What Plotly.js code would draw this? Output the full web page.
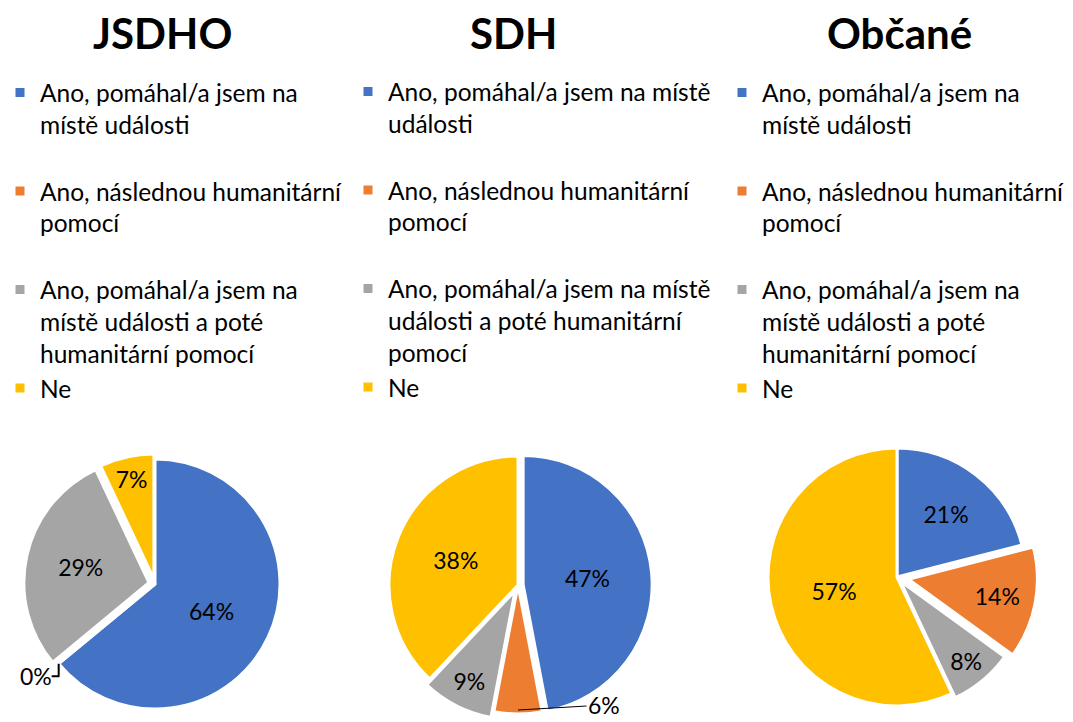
<!DOCTYPE html>
<html>
<head>
<meta charset="utf-8">
<script src="https://cdn.plot.ly/plotly-3.0.1.min.js"></script>
<style>html,body{margin:0;padding:0;background:#fff;}#chart{width:1073px;height:722px;}</style>
</head>
<body>
<div id="chart"></div>
<script>
const chartTitles = ["JSDHO", "SDH", "Občané"];
const categories = [
  "Ano, pomáhal/a jsem na místě události",
  "Ano, následnou humanitární pomocí",
  "Ano, pomáhal/a jsem na místě události a poté humanitární pomocí",
  "Ne"
];
const labelsNarrow = [
  "Ano, pomáhal/a jsem na<br>místě události<br> ",
  "Ano, následnou humanitární<br>pomocí<br> ",
  "Ano, pomáhal/a jsem na<br>místě události a poté<br>humanitární pomocí",
  "Ne"
];
const labelsWide = [
  "Ano, pomáhal/a jsem na místě<br>události<br> ",
  "Ano, následnou humanitární<br>pomocí<br> ",
  "Ano, pomáhal/a jsem na místě<br>události a poté humanitární<br>pomocí",
  "Ne"
];
const jsdhoValues = [64, 0, 29, 7];
const sdhValues = [47, 6, 9, 38];
const obcaneValues = [21, 14, 8, 57];
const sliceColors = ["#4472C4", "#ED7D31", "#A5A5A5", "#FFC000"];

const FONT = "Lato, 'Open Sans', sans-serif";
const W = 1073, H = 722;

function pieTrace(labels, values, legendId, group, pull, textpos, cx, cy, r) {
  const maxPull = Math.max.apply(null, pull);
  const side = r * 2 * (1 + maxPull);
  const yc = H - cy;
  return {
    type: "pie",
    labels: labels,
    values: values,
    customdata: categories,
    sort: false,
    direction: "clockwise",
    rotation: 0,
    pull: pull,
    textinfo: "percent",
    textposition: textpos,
    insidetextorientation: "horizontal",
    textfont: {family: FONT, size: 23, color: "#000"},
    marker: {colors: sliceColors, line: {color: "#fff", width: 3}},
    domain: {x: [(cx - side / 2) / W, (cx + side / 2) / W], y: [0, Math.min(1, 2 * yc / H)]},
    legend: legendId,
    legendgroup: group,
    hovertemplate: "%{customdata}: %{percent}<extra></extra>"
  };
}

const data = [
  pieTrace(labelsNarrow, jsdhoValues, "legend", "jsdho", [0, 0, 0.05, 0.04], ["inside", "outside", "inside", "inside"], 155, 584, 125),
  pieTrace(labelsWide, sdhValues, "legend2", "sdh", [0.04, 0, 0.05, 0], ["inside", "none", "inside", "inside"], 518, 585, 129),
  pieTrace(labelsNarrow, obcaneValues, "legend3", "obcane", [0, 0.09, 0.04, 0], ["inside", "inside", "inside", "inside"], 897, 577, 129)
];

function legendCfg(x, y) {
  return {
    x: x, y: y, xanchor: "left", yanchor: "top",
    font: {family: FONT, size: 24.5, color: "#000"},
    valign: "top",
    bgcolor: "rgba(0,0,0,0)",
    borderwidth: 0,
    itemclick: false, itemdoubleclick: false
  };
}

const titleX = [162, 513, 899];
const annotations = chartTitles.map((t, i) => ({
  text: "<b>" + t + "</b>",
  x: titleX[i] / W, y: 1 - 33 / H, xref: "paper", yref: "paper",
  xanchor: "center", yanchor: "middle", showarrow: false,
  font: {family: FONT, size: 42, color: "#000"}
}));
// outside label with leader line for the small SDH slice
annotations.push({
  text: sdhValues[1] + "%",
  x: 518 / W, y: (H - 710) / H, xref: "paper", yref: "paper",
  ax: 86, ay: -5, showarrow: true, arrowhead: 0, arrowwidth: 1, arrowcolor: "#000",
  standoff: 0,
  font: {family: FONT, size: 23, color: "#000"}
});

const layout = {
  width: W, height: H,
  margin: {l: 0, r: 0, t: 0, b: 0},
  paper_bgcolor: "#fff",
  showlegend: true,
  font: {family: FONT, color: "#000"},
  legend: legendCfg(0 / W, 1 - 70 / H),
  legend2: legendCfg(348 / W, 1 - 69 / H),
  legend3: legendCfg(722 / W, 1 - 70 / H),
  annotations: annotations
};

Plotly.newPlot("chart", data, layout, {displayModeBar: false});
</script>
</body>
</html>
